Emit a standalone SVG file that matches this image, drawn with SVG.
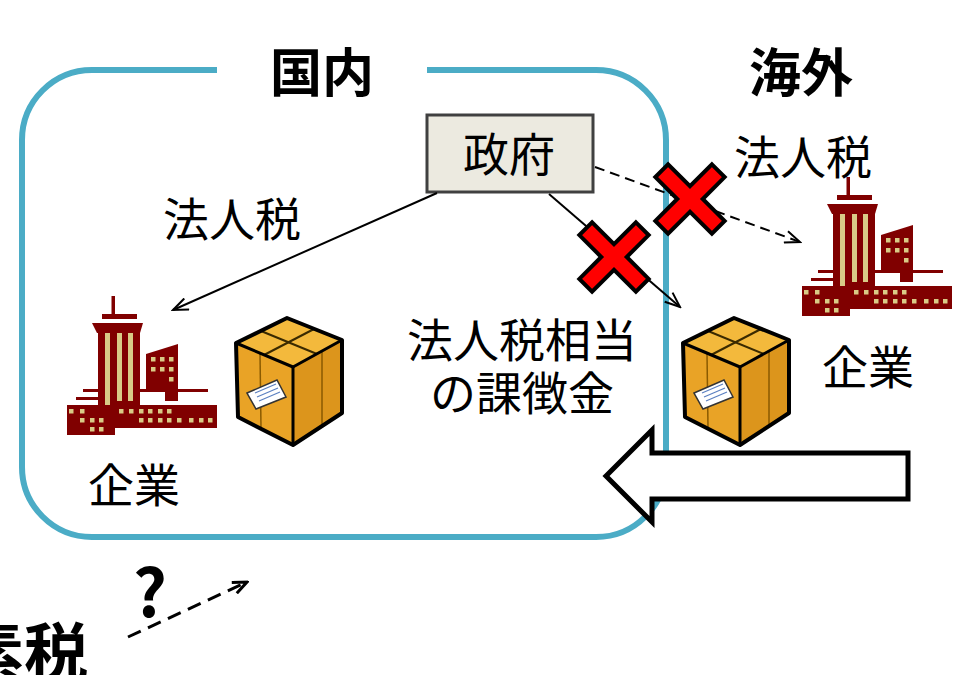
<svg xmlns="http://www.w3.org/2000/svg" xmlns:xlink="http://www.w3.org/1999/xlink" width="958" height="675" viewBox="0 0 958 675">
  <style>
    .jp { font-family: "Noto Sans CJK JP", "Noto Sans CJK SC", sans-serif; fill: #000; }
    .lbl { font-size: 46px; text-anchor: middle; }
    .ttl { font-size: 52px; font-weight: bold; text-anchor: middle; }
    .frame { fill: none; stroke: #4BACC6; stroke-width: 6; }
    .maroon { fill: #800000; }
    .beige { fill: #D9CB86; }
    .solid { fill: none; stroke: #000; stroke-width: 2; }
    .dash { fill: none; stroke: #000; stroke-width: 2; stroke-dasharray: 10 6; }
    .cross { fill: #FF0000; stroke: #000; stroke-width: 4; stroke-linejoin: miter; }
  </style>
  <defs>
    <marker id="head" viewBox="0 0 18 14" markerWidth="18" markerHeight="14" refX="16" refY="7" orient="auto" markerUnits="userSpaceOnUse">
      <path d="M1,1 L16,7 L1,13" fill="none" stroke="#000" stroke-width="2"/>
    </marker>
    <marker id="headBold" viewBox="0 0 18 14" markerWidth="18" markerHeight="14" refX="16" refY="7" orient="auto" markerUnits="userSpaceOnUse">
      <path d="M2,1 L16,7 L2,13" fill="none" stroke="#000" stroke-width="3"/>
    </marker>

    <!-- office building icon -->
    <g id="bldg">
      <rect class="maroon" x="111.5" y="296" width="3.5" height="20"/>
      <rect class="maroon" x="102" y="314" width="35" height="5"/>
      <polygon class="maroon" points="92,323 143,323 140,333 97,333"/>
      <rect class="maroon" x="98" y="330" width="42" height="78"/>
      <rect class="beige" x="105" y="333" width="5" height="73"/>
      <rect class="beige" x="117" y="333" width="5" height="68"/>
      <rect class="beige" x="128" y="333" width="5" height="68"/>
      <rect class="maroon" x="140" y="389" width="68" height="3"/>
      <rect class="maroon" x="83" y="389" width="15" height="3"/>
      <rect class="maroon" x="76" y="397" width="22" height="3"/>
      <polygon class="maroon" points="146,354 178,344 178,401 165,401 165,392 146,392"/>
      <g class="beige">
        <rect x="151" y="357" width="4.5" height="4.5"/>
        <rect x="160" y="357" width="4.5" height="4.5"/>
        <rect x="169" y="357" width="4.5" height="4.5"/>
        <rect x="151" y="367" width="4.5" height="4.5"/>
        <rect x="160" y="367" width="4.5" height="4.5"/>
        <rect x="169" y="367" width="4.5" height="4.5"/>
        <rect x="169" y="377" width="4.5" height="4.5"/>
      </g>
      <rect class="maroon" x="67" y="405" width="150" height="23"/>
      <rect class="maroon" x="67" y="405" width="48" height="30"/>
      <g class="beige">
        <rect x="69" y="409" width="4.5" height="4.5"/>
        <rect x="80" y="409" width="4.5" height="4.5"/>
        <rect x="119" y="409" width="4.5" height="4.5"/>
        <rect x="129" y="409" width="4.5" height="4.5"/>
        <rect x="139" y="409" width="4.5" height="4.5"/>
        <rect x="148" y="409" width="4.5" height="4.5"/>
        <rect x="158" y="409" width="4.5" height="4.5"/>
        <rect x="167" y="409" width="4.5" height="4.5"/>
        <rect x="80" y="418" width="4.5" height="4.5"/>
        <rect x="90" y="418" width="4.5" height="4.5"/>
        <rect x="99" y="418" width="4.5" height="4.5"/>
        <rect x="139" y="418" width="4.5" height="4.5"/>
        <rect x="148" y="418" width="4.5" height="4.5"/>
        <rect x="158" y="418" width="4.5" height="4.5"/>
        <rect x="167" y="418" width="4.5" height="4.5"/>
        <rect x="177" y="418" width="4.5" height="4.5"/>
        <rect x="189" y="418" width="4.5" height="4.5"/>
        <rect x="199" y="418" width="4.5" height="4.5"/>
        <rect x="208" y="418" width="4.5" height="4.5"/>
        <rect x="90" y="427" width="4.5" height="4.5"/>
        <rect x="99" y="427" width="4.5" height="4.5"/>
      </g>
    </g>

    <!-- cardboard parcel icon -->
    <g id="parcel">
      <polygon points="287,318 342,340 293,367 236,343" fill="#F3B93C"/>
      <polygon points="236,343 293,367 293,445 238,417" fill="#E9A326"/>
      <polygon points="293,367 342,340 342,413 293,445" fill="#DC951C"/>
      <line x1="261" y1="331" x2="317" y2="354" stroke="#3a2a00" stroke-width="2"/>
      <line x1="314" y1="329" x2="264" y2="355" stroke="#3a2a00" stroke-width="2"/>
      <line x1="260" y1="353" x2="261" y2="428" stroke="#8a5a00" stroke-width="1.5"/>
      <line x1="322" y1="351" x2="322" y2="426" stroke="#8a5a00" stroke-width="1.5"/>
      <polygon points="247,393 277,380 286,397 256,409" fill="#fff" stroke="#333" stroke-width="1.5"/>
      <g stroke="#5a7fc0" stroke-width="1.2">
        <line x1="255" y1="393" x2="276" y2="384"/>
        <line x1="257" y1="397" x2="278" y2="388"/>
        <line x1="259" y1="401" x2="280" y2="392"/>
      </g>
      <polygon points="287,318 342,340 342,413 293,445 238,417 236,343" fill="none" stroke="#000" stroke-width="4" stroke-linejoin="round"/>
      <polyline points="236,343 293,367 342,340" fill="none" stroke="#000" stroke-width="3" stroke-linejoin="round"/>
      <line x1="293" y1="367" x2="293" y2="445" stroke="#000" stroke-width="3"/>
    </g>

    <!-- red "not applicable" mark, centred on origin -->
    <polygon id="xmark" class="cross" transform="rotate(45)" points="-9,-40 9,-40 9,-9 40,-9 40,9 9,9 9,40 -9,40 -9,9 -40,9 -40,-9 -9,-9"/>
  </defs>

  <!-- domestic frame with gap for its title -->
  <path class="frame" d="M427,70 L596,70 A70,70 0 0 1 666,140 L666,467 A70,70 0 0 1 596,537 L92,537 A70,70 0 0 1 22,467 L22,140 A70,70 0 0 1 92,70 L217,70"/>

  <g id="title-domestic"><text class="jp ttl" x="322" y="92">国内</text></g>
  <g id="title-overseas"><text class="jp ttl" x="801" y="92">海外</text></g>

  <g id="government">
    <rect x="427" y="115" width="166" height="77" fill="#ECEAE0" stroke="#404040" stroke-width="3"/>
    <text class="jp lbl" x="509" y="171">政府</text>
  </g>

  <g id="company-domestic">
    <use xlink:href="#bldg"/>
    <use xlink:href="#parcel"/>
    <text class="jp lbl" x="134" y="502">企業</text>
  </g>

  <g id="company-overseas">
    <use xlink:href="#bldg" transform="translate(735,-119)"/>
    <use xlink:href="#parcel" transform="translate(447,0)"/>
    <text class="jp lbl" x="868" y="384">企業</text>
  </g>

  <g id="labels">
    <text class="jp lbl" x="232" y="236">法人税</text>
    <text class="jp lbl" x="803" y="174">法人税</text>
    <text class="jp lbl" x="522" y="357">法人税相当</text>
    <text class="jp lbl" x="522" y="410">の課徴金</text>
  </g>

  <g id="connectors">
    <line class="solid" x1="437" y1="193" x2="173" y2="310" marker-end="url(#head)"/>
    <line class="solid" x1="549" y1="194" x2="680" y2="307" marker-end="url(#head)"/>
    <line class="dash" x1="595" y1="167" x2="800" y2="242" marker-end="url(#head)"/>
    <line fill="none" stroke="#000" stroke-width="3" stroke-dasharray="14 8" x1="128" y1="637" x2="247" y2="582" marker-end="url(#headBold)"/>
  </g>

  <g id="blocked-marks">
    <use xlink:href="#xmark" transform="translate(614,257)"/>
    <use xlink:href="#xmark" transform="translate(690,199)"/>
  </g>

  <!-- inbound flow arrow -->
  <g id="inflow-arrow">
    <polygon points="606,476 652,430 652,453 908,453 908,499 652,499 652,522" fill="#fff" stroke="#000" stroke-width="5" stroke-linejoin="miter"/>
  </g>

  <g id="question">
    <text class="jp" x="150" y="617" font-size="66" font-weight="bold" text-anchor="middle">?</text>
  </g>
  <g id="tax-name">
    <text class="jp" x="88" y="676" font-size="64" font-weight="bold" text-anchor="end">素税</text>
  </g>
</svg>
